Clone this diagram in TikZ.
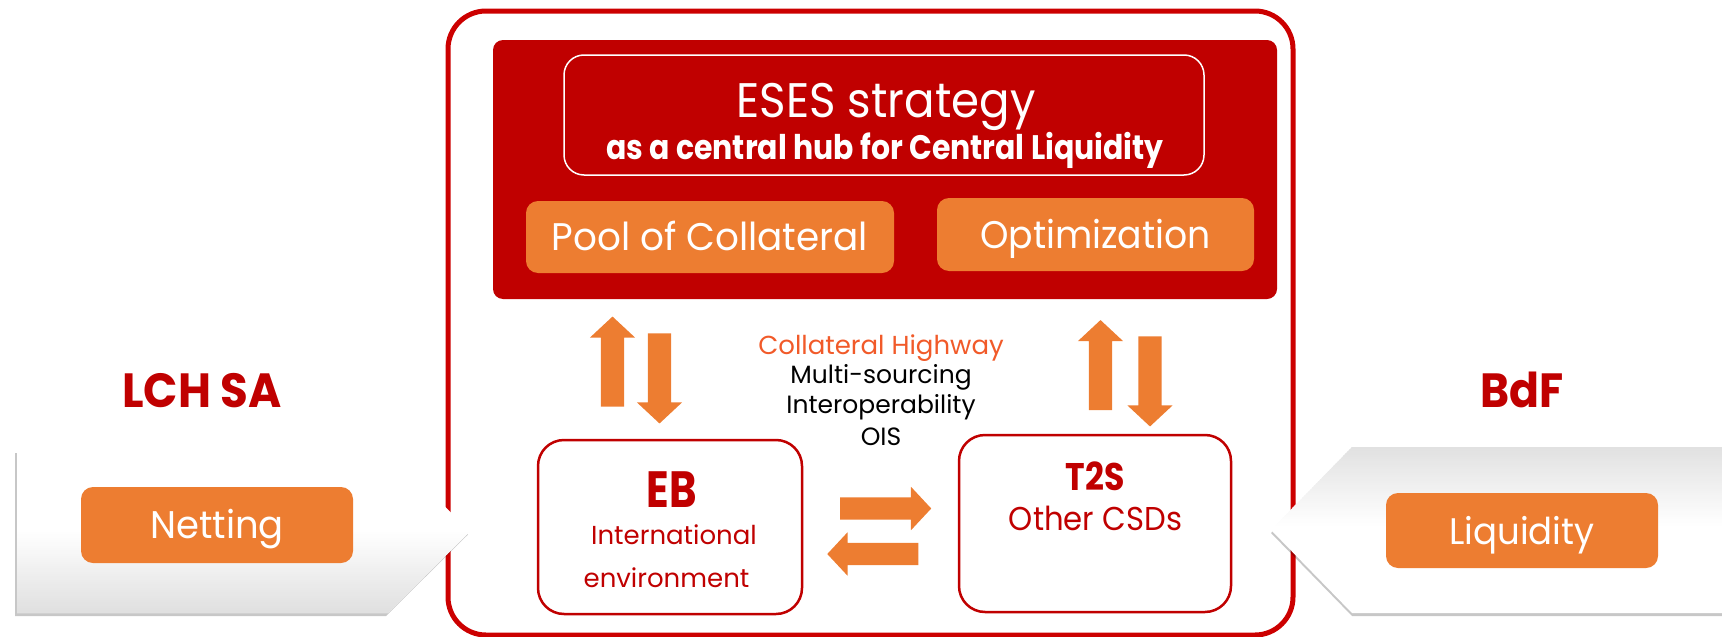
\documentclass[tikz,border=0pt]{standalone}
\usepackage{fontspec}
\setmainfont{Poppins}
\usetikzlibrary{shapes.arrows, positioning}

\definecolor{hubred}{HTML}{C00000}
\definecolor{rimred}{HTML}{CC0000}
\definecolor{flow}{HTML}{ED7D31}
\definecolor{hwy}{HTML}{F15A29}
\newcommand{\px}[1]{\fontsize{#1}{#1}\selectfont}
\newcommand{\narrow}[1]{\addfontfeatures{FakeStretch=#1}}
\newcommand{\lefttab}{(17,450) -- (388,450) -- (470,531.5) -- (388,613) -- (17,613) -- cycle}
\newcommand{\righttab}{(1271,530) -- (1352,447) -- (1760,447) -- (1760,613) -- (1352,613) -- cycle}

\begin{document}
\begin{tikzpicture}[
        x=1pt, y=-1pt,
        rim/.style={draw=rimred, line width=5pt, rounded corners=38pt},
        hub/.style={fill=hubred, rounded corners=10pt},
        pill/.style={fill=flow, rounded corners=12pt, text=white, inner sep=0pt, text height=27pt, text depth=0pt},
        site/.style={draw=hubred, line width=2.5pt, rounded corners=26pt, fill=white},
        tabshadow/.style={fill=black, opacity=0.22},
        vflow/.style={single arrow, fill=flow, inner sep=11.5pt, minimum height=90pt,
            single arrow head extend=11pt, single arrow tip angle=94},
        hflow/.style={vflow, inner sep=11pt, minimum height=91pt, single arrow head extend=10.5pt},
        txt/.style={anchor=base, inner sep=0pt}
    ]
        \clip (0,0) rectangle (1722,637);

        % central frame (the tab tips lie over it)
        \node[rim, minimum width=845pt, minimum height=624pt] (frame) at (870.5,323) {};

        % side tabs: white, greyed towards the bottom (left) or the top (right)
        \fill[tabshadow, shift={(-2,3)}] \lefttab;
        \fill[tabshadow, shift={(0,3)}] \righttab;
        \begin{scope}
            \clip \lefttab;
            \fill[white] (0,440) rectangle (480,620);
            \foreach \k [evaluate=\k as \g using 0.3*\k] in {0,...,41}
                \fill[black!\g] (0,{530+2*\k}) rectangle (480,{532.5+2*\k});
        \end{scope}
        \begin{scope}
            \clip \righttab;
            \fill[white] (1260,440) rectangle (1760,620);
            \foreach \k [evaluate=\k as \g using 12-0.3*\k] in {0,...,39}
                \fill[black!\g] (1260,{445+2*\k}) rectangle (1760,{447.5+2*\k});
        \end{scope}
        \node[pill, minimum width=272pt, minimum height=76pt, font=\px{38.5}\narrow{0.96}] (netting) at (217,525) {Netting};
        \node[pill, minimum width=272pt, minimum height=75pt, font=\px{37}\narrow{0.96}] (liquidity) at (1522,530.5) {Liquidity};
        \node[txt, text=hubred, font=\px{48}\bfseries\narrow{0.94}] (lchname) at (202,407) {LCH SA};
        \node[txt, text=hubred, font=\px{48}\bfseries\narrow{0.92}] (bdfname) at (1522.5,407) {BdF};

        % hub
        \node[hub, minimum width=784pt, minimum height=259pt] (hub) at (885,169.5) {};
        \node[draw=white, line width=1.5pt, rounded corners=20pt, minimum width=640pt, minimum height=120pt] (eses) at (884,115) {};
        \node[txt, text=white, font=\px{48.5}\narrow{0.93}] (esestitle) at (886,117) {ESES strategy};
        \node[txt, text=white, font=\px{34}\bfseries\narrow{0.88}] (esessub) at (885,159) {as a central hub for Central Liquidity};
        \node[pill, minimum width=368pt, minimum height=72pt, font=\px{38.5}\narrow{0.97}] (pool) at (710,237) {Pool of Collateral};
        \node[pill, minimum width=317pt, minimum height=73pt, font=\px{38.5}\narrow{0.94}] (optim) at (1095.5,234.5) {Optimization};

        % flows
        \node[vflow, shape border rotate=90] (lup) at (612.5,367) {};
        \node[vflow, shape border rotate=270] (ldown) at (659.5,373) {};
        \node[vflow, shape border rotate=90] (rup) at (1100.5,370.5) {};
        \node[vflow, shape border rotate=270] (rdown) at (1150,376) {};
        \node[hflow] (toright) at (880.5,508.5) {};
        \node[hflow, shape border rotate=180] (toleft) at (878,554) {};

        \node[txt, text=hwy, font=\px{26}] (hwyline) at (881,354) {Collateral Highway};
        \node[txt, font=\px{25}] (multi) at (881,383) {Multi-sourcing};
        \node[txt, font=\px{25}] (interop) at (881,413) {Interoperability};
        \node[txt, font=\px{25}] (ois) at (881,445) {OIS};

        % sites
        \node[site, minimum width=264pt, minimum height=174pt] (eb) at (670,527) {};
        \node[txt, text=hubred, font=\px{51}\bfseries\narrow{0.82}] (ebname) at (671.5,507) {EB};
        \node[txt, text=hubred, font=\px{26}] (ebintl) at (674,544) {International};
        \node[txt, text=hubred, font=\px{26}] (ebenv) at (666.5,587) {environment};
        \node[site, minimum width=272pt, minimum height=177pt] (t2s) at (1095,523.5) {};
        \node[txt, text=hubred, font=\px{38.5}\bfseries\narrow{0.86}] (t2sname) at (1095,490) {T2S};
        \node[txt, text=hubred, font=\px{33}\narrow{0.93}] (csds) at (1095.5,530) {Other CSDs};
    \end{tikzpicture}
\end{document}
